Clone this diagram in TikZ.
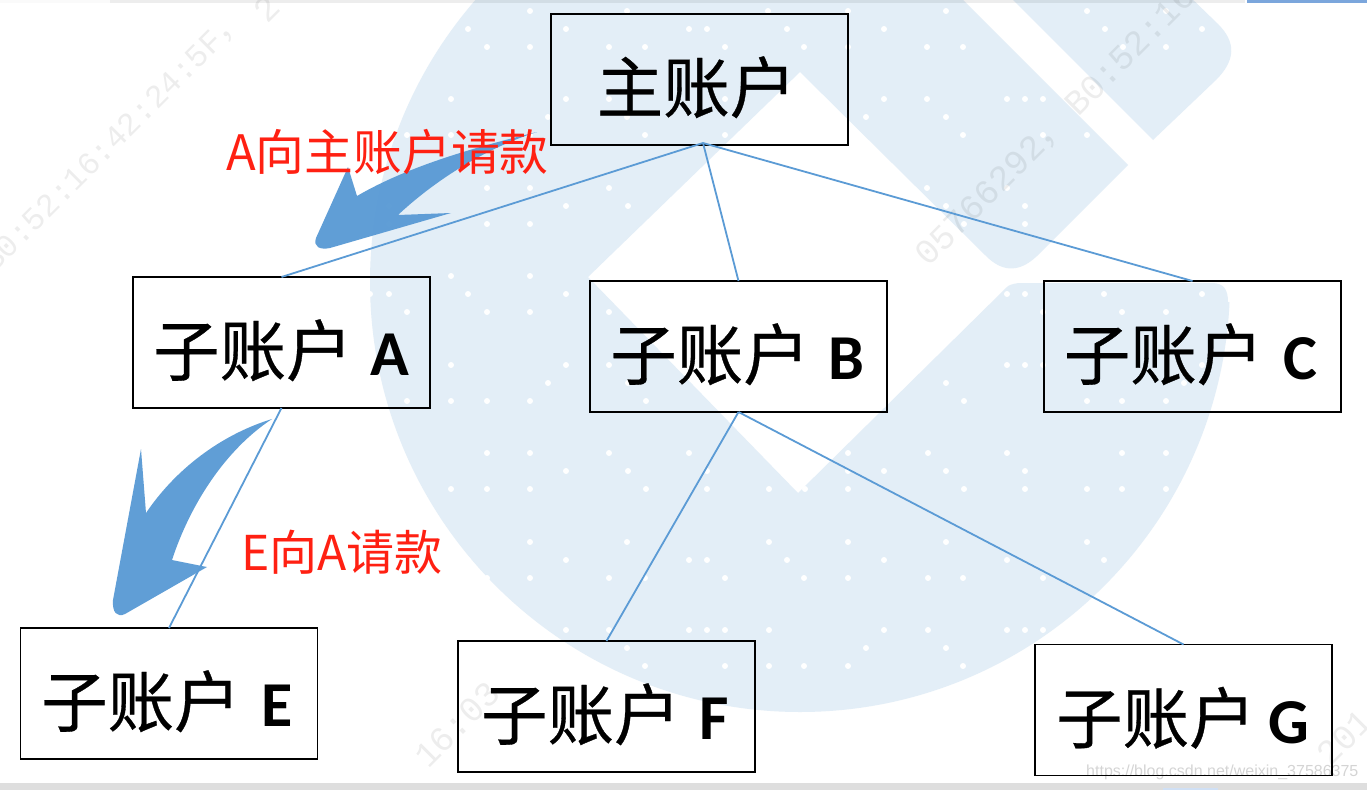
\documentclass[tikz,border=0pt]{standalone}
\usepackage{fontspec}
\setmainfont{Carlito}
\newfontfamily\cjk{Noto Sans CJK SC}
\newfontfamily\cjkb[FakeBold=0.5]{Noto Sans CJK SC}
\newfontfamily\wmfont{Liberation Mono}
\newfontfamily\urlfont{Liberation Sans}
\definecolor{logoblue}{HTML}{E3EEF7}
\definecolor{linkblue}{HTML}{5B9BD5}
\definecolor{redtxt}{HTML}{FF2012}
\definecolor{topblue}{HTML}{7BA6DC}
\definecolor{botblue}{HTML}{D0E0F5}
\definecolor{botgrey}{HTML}{DEDEDE}
\newcommand{\subacct}[3]{\raisebox{-33pt}[0pt][0pt]{\hspace*{#1}{\cjkb\fontsize{66.5}{66.5}\selectfont 子账户}\hspace*{#2}{\fontsize{64}{64}\selectfont\bfseries #3}}}
\tikzset{
  boxnode/.style={draw=black,line width=1.8pt,minimum width=297pt,minimum height=131pt,inner sep=0pt,outer sep=0pt,text=black},
  link/.style={draw=linkblue,line width=1.8pt},
  curvearrow/.style={fill=linkblue,draw=none,fill opacity=.97},
  redlabel/.style={text=redtxt,inner sep=0pt,anchor=base west},
  watermark/.style={text=black,text opacity=.07,rotate=45,anchor=base west,inner sep=0pt,font=\wmfont\fontsize{35}{35}\selectfont}
}
\begin{document}
\begin{tikzpicture}[x=1pt,y=-1pt]
\useasboundingbox (0,0) rectangle (1367,790);
\fill[white] (0,0) rectangle (1367,790);
% logo
\begin{scope}
\clip (800,282) circle[radius=430pt];
\fill[logoblue] (300,-5) -- (958,-5) -- (1128,165) -- (1040,253) .. controls (1022,272) and (1004,274) .. (986,256) -- (800,72) -- (588,277) -- (798,493) -- (1008,286) .. controls (1012,284) and (1016,283) .. (1022,283) -- (1212,283) .. controls (1224,283) and (1228,290) .. (1228,302) -- (1300,320) -- (1300,800) -- (300,800) -- cycle;
\end{scope}
\fill[logoblue] (1008,-5) -- (1153,140) -- (1216,80) .. controls (1236,60) and (1236,42) .. (1218,24) -- (1188,-5) -- cycle;
\foreach \yy/\xs in {
11/{530,627,768,848,946,1087,1166},
29/{468,566,689,707,787,884,1105,1202},
47/{487,530,609,645,725,804,848,927,963,1123,1166},
99/{451,566,609,725,884,927,1007,1025,1043},
117/{548,627,866,946},
135/{407,451,530,645,725,963,1043,1087},
188/{487,530,609,927,1007},
206/{389,566,628,946,1025},
224/{389,487,530,964,1025},
276/{451,530},
294/{370,389,468,566,1007,1025,1104,1202},
312/{407,487,530,609,1043,1122,1166},
365/{451,566,609,1007,1025,1043,1202},
383/{548,628,946,1184},
401/{407,451,487,530,646,964,1087,1122,1166},
453/{487,530,609,689,848,928,1007,1122,1166},
471/{566,628,707,848,884,946,1025},
489/{451,487,530,646,707,769,805,848,964,1025,1087,1122,1166},
542/{530,627,769,848,946,1087},
560/{468,566,689,707,787,884,1007,1104},
578/{487,530,609,645,725,804,848,928,963,1043},
630/{566,609,689,707,725,769,884,928,1007,1025,1043},
648/{627,866,946},
666/{645,725,769,804,848,963}}
{\foreach \xx in \xs {\fill[white] (\xx,\yy) circle[radius=3pt];}}
% watermarks
\node[watermark,font=\wmfont\fontsize{32}{32}\selectfont] (wa) at (-6,274) {B0:52:16:42:24:5F{\cjk ，}};
\node[watermark] (wb) at (267,25) {2};
\node[watermark] (wc) at (928,268) {05766292{\cjk ，}};
\node[watermark] (wd) at (1078,118) {B0:52:16};
\node[watermark] (we) at (428,770) {16:03};
\node[watermark] (wf) at (1330,768) {201};
% strips
\fill[black,opacity=.07] (110,0) rectangle (1245,3);
\fill[black,opacity=.02] (0,0) rectangle (110,3);
\fill[topblue] (1247,0) rectangle (1367,2.5);
\fill[botgrey] (0,783) rectangle (1367,790);
\fill[botblue] (1163,788) rectangle (1218,790);
% boxes
\node[boxnode] (main) at (699.5,79.5) {\raisebox{-33pt}[0pt][0pt]{\hspace*{-6pt}{\cjkb\fontsize{66.5}{66.5}\selectfont 主账户}}};
\node[boxnode] (A) at (281.5,342.5) {\subacct{-1pt}{17.5pt}{A}};
\node[boxnode] (B) at (738.5,346.5) {\subacct{-2pt}{19pt}{B}};
\node[boxnode] (C) at (1192.5,346.5) {\subacct{-4pt}{20pt}{C}};
\node[boxnode] (E) at (169,693.5) {\subacct{-4pt}{21pt}{E}};
\node[boxnode] (F) at (606.5,706.5) {\subacct{-3pt}{19pt}{F}};
\node[boxnode] (G) at (1183.5,710) {\subacct{-2pt}{12.5pt}{G}};
% connectors
\coordinate (mainp) at (703,143);
\draw[link] (mainp) -- (A.north);
\draw[link] (mainp) -- (B.north);
\draw[link] (mainp) -- (C.north);
\draw[link] (A.south) -- (E.north);
\draw[link] (B.south) -- (F.north);
\draw[link] (B.south) -- (G.north);
% curved arrows
\fill[curvearrow] (537,132) .. controls (480,146) and (410,165) .. (357,196) -- (348,167) -- (316,238) .. controls (313,247) and (320,250) .. (330,248) -- (451,213) -- (398,215) .. controls (430,185) and (480,150) .. cycle;
\fill[curvearrow] (272,419) .. controls (220,435) and (175,470) .. (146,513) -- (141,449) -- (113,600) .. controls (112,612) and (117,618) .. (125,614) -- (207,567) -- (172,560) .. controls (190,505) and (225,450) .. cycle;
% red labels
\node[redlabel] (la) at (226,170) {\cjk\fontsize{48.8}{48.8}\selectfont A向主账户请款};
\node[redlabel] (lb) at (241,570) {\cjk\fontsize{48}{48}\selectfont E向A请款};
% url
\node[text=black,text opacity=.17,inner sep=0pt,anchor=base west] (url) at (1086,776) {\urlfont\fontsize{16}{16}\selectfont https://blog.csdn.net/weixin\_37586375};
\end{tikzpicture}
\end{document}
